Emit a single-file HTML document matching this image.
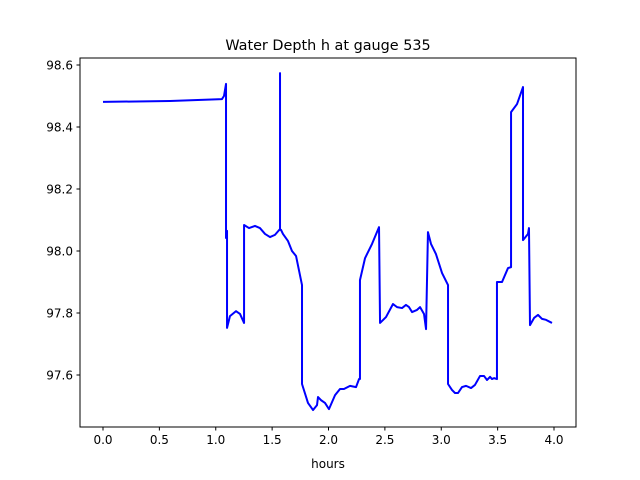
<!DOCTYPE html>
<html><head><meta charset="utf-8"><style>
body{margin:0;background:#fff}
svg{display:block;font-family:"DejaVu Sans","Liberation Sans",sans-serif}
</style></head><body>
<svg id="chart" width="640" height="480" xmlns="http://www.w3.org/2000/svg">
<rect width="640" height="480" fill="#fff"/>
<text x="328" y="50" font-size="14.4" text-anchor="middle">Water Depth h at gauge 535</text>
<g id="plot"></g>
<rect x="80" y="58" width="496" height="369" fill="none" stroke="#000" stroke-width="1"/>
<text x="328" y="468" font-size="12" text-anchor="middle">hours</text>
</svg>
<script>
const hours=[0,0.594,1.055,1.073,1.091,1.091,1.100,1.100,1.100,1.126,1.180,1.215,1.251,1.251,1.295,1.348,1.392,1.437,1.481,1.525,1.570,1.570,1.570,1.579,1.596,1.641,1.676,1.712,1.765,1.765,1.818,1.863,1.898,1.907,1.933,1.969,2.004,2.058,2.102,2.137,2.191,2.244,2.271,2.279,2.279,2.324,2.386,2.448,2.457,2.510,2.572,2.608,2.652,2.687,2.714,2.741,2.785,2.812,2.847,2.865,2.882,2.909,2.953,3.007,3.060,3.060,3.095,3.122,3.149,3.184,3.220,3.264,3.299,3.344,3.379,3.406,3.433,3.450,3.468,3.494,3.494,3.539,3.592,3.619,3.619,3.672,3.725,3.725,3.769,3.778,3.787,3.823,3.858,3.894,3.929,3.982];
const depth=[98.481,98.484,98.490,98.500,98.539,98.042,98.065,98.042,97.752,97.790,97.806,97.797,97.768,98.084,98.074,98.081,98.074,98.055,98.045,98.052,98.071,98.574,98.068,98.068,98.055,98.032,98.000,97.984,97.890,97.571,97.510,97.487,97.503,97.529,97.519,97.510,97.490,97.535,97.555,97.555,97.565,97.561,97.587,97.587,97.906,97.977,98.023,98.077,97.768,97.787,97.829,97.819,97.816,97.826,97.819,97.803,97.810,97.819,97.797,97.748,98.061,98.023,97.990,97.929,97.890,97.571,97.552,97.542,97.542,97.561,97.565,97.558,97.568,97.597,97.597,97.584,97.594,97.587,97.590,97.587,97.900,97.900,97.945,97.948,98.448,98.474,98.529,98.035,98.055,98.074,97.761,97.784,97.794,97.781,97.778,97.768];
const xTicks=[0,0.5,1,1.5,2,2.5,3,3.5,4];
const xTickLabels=["0.0","0.5","1.0","1.5","2.0","2.5","3.0","3.5","4.0"];
const yTicks=[97.6,97.8,98.0,98.2,98.4,98.6];
const yTickLabels=["97.6","97.8","98.0","98.2","98.4","98.6"];
const NS="http://www.w3.org/2000/svg";
const xMin=-0.204,xMax=4.195,yMin=97.4323,yMax=98.6226;
const L=80,R=576,T=58,B=427;
function xs(v){return L+(v-xMin)/(xMax-xMin)*(R-L);}
function ys(v){return B-(v-yMin)/(yMax-yMin)*(B-T);}
const g=document.getElementById('plot');
function mk(tag,attrs){const e=document.createElementNS(NS,tag);for(const k in attrs)e.setAttribute(k,attrs[k]);g.appendChild(e);return e;}
xTicks.forEach((t,i)=>{
  const l=mk('line',{x1:xs(t),x2:xs(t),y1:B,y2:B+3.5,stroke:'#000'});
  
  
  const tx=mk('text',{x:xs(t),y:B+17,'font-size':12,'text-anchor':'middle'});
  tx.textContent=xTickLabels[i];
  
  
});
yTicks.forEach((t,i)=>{
  const l=mk('line',{x1:L-3.5,x2:L,y1:ys(t),y2:ys(t),stroke:'#000'});
  
  
  const tx=mk('text',{x:L-7,y:ys(t)+4.5,'font-size':12,'text-anchor':'end'});
  tx.textContent=yTickLabels[i];
  
  
});
const d=hours.map((h,i)=>(i?'L':'M')+xs(h).toFixed(2)+','+ys(depth[i]).toFixed(2)).join(' ');
const p=mk('path',{d:d,fill:'none',stroke:'#0000ff','stroke-width':2,'stroke-linejoin':'round'});


</script>
</body></html>
